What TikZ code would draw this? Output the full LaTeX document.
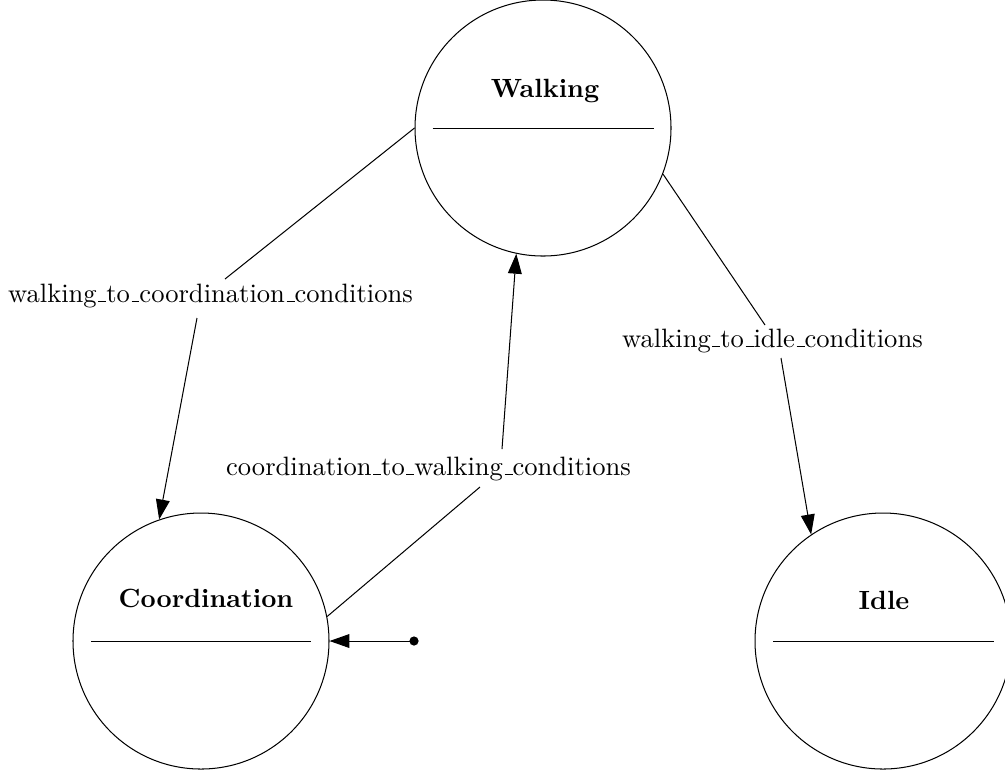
\documentclass[tikz,border=0pt]{standalone}
\usetikzlibrary{arrows.meta}
\newcommand\ulbar{\leavevmode\kern.06em\vbox{\hrule width.3em}}
\begin{document}
\begin{tikzpicture}[x=0.390625pt,y=-0.390625pt,
  every node/.style={font=\fontsize{10.38}{12.5}\selectfont},
  state/.style={circle,draw,line width=0.4pt,minimum size=100pt,inner sep=0pt},
  stitle/.style={anchor=base,font=\fontsize{10.3}{12.5}\selectfont\bfseries},
  elabel/.style={anchor=base,inner sep=0pt},
  conn/.style={line width=0.4pt},
  arr/.style={line width=0.4pt,-{Triangle[length=7.8pt,width=5.4pt]}},
  initdot/.style={circle,fill=black,inner sep=0pt,minimum size=3.6pt}]
\useasboundingbox (0,0) rectangle (1005,773);
\clip (0,0) rectangle (1005,773);
% states
\node[state] (W) at (543,128) {};
\node[state] (C) at (201,641) {};
\node[state] (I) at (883,641) {};
\node[stitle] (Wt) at (545,97) {Walking};
\node[stitle] (Ct) at (206,607) {Coordination};
\node[stitle] (It) at (884,609) {Idle};
\draw[conn] ([shift={(-110.5,0)}]W.center) -- ([shift={(110.5,0)}]W.center);
\draw[conn] ([shift={(-110,0)}]C.center) -- ([shift={(110,0)}]C.center);
\draw[conn] ([shift={(-110,0)}]I.center) -- ([shift={(111,0)}]I.center);
% labels
\node[elabel] (L1) at (210.5,302) {walking\ulbar to\ulbar coordination\ulbar conditions};
\node[elabel] (L2) at (772.5,347) {walking\ulbar to\ulbar idle\ulbar conditions};
\node[elabel] (L3) at (428.5,475) {coordination\ulbar to\ulbar walking\ulbar conditions};
% edges
\draw[conn] (W.west) -- ([shift={(14.5,-23)}]L1.base);
\draw[arr] ([shift={(-13.5,16)}]L1.base) -- (C.109);
\draw[conn] (W.-21) -- ([shift={(-7.5,-22)}]L2.base);
\draw[arr] ([shift={(8.5,11)}]L2.base) -- (I.124);
\draw[conn] (C.11) -- ([shift={(51.5,12)}]L3.base);
\draw[arr] ([shift={(73.5,-26)}]L3.base) -- (W.258);
% initial
\node[initdot] (init) at (414,641) {};
\draw[arr] (init.center) -- (C.east);
\end{tikzpicture}
\end{document}
